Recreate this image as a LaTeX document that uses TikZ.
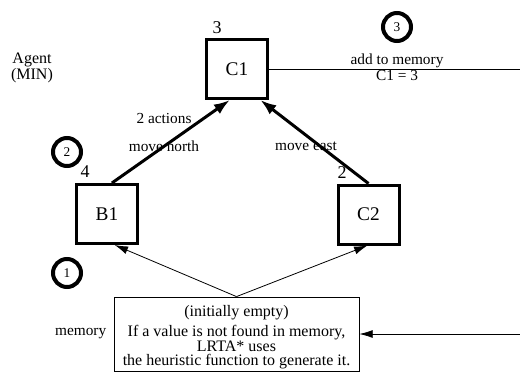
\documentclass[tikz,border=0pt]{standalone}
\usepackage{fontspec}
\setmainfont{Liberation Serif}
\usetikzlibrary{arrows.meta, positioning}
\tikzset{
  state/.style={draw, line width=2.25pt, minimum width=45.75pt, minimum height=44.25pt, font=\fontsize{14.5}{16}\selectfont},
  hval/.style={font=\fontsize{13.5}{15}\selectfont},
  stepmark/.style={draw, circle, line width=3pt, minimum size=21pt, inner sep=0pt, font=\fontsize{10}{12}\selectfont},
  lbl/.style={font=\fontsize{11.5}{12}\selectfont},
  move/.style={line width=2.25pt, -{Latex[length=12pt, width=8.5pt]}},
  lookup/.style={line width=0.6pt, -{Latex[length=10pt, width=6pt]}},
}
\begin{document}
\begin{tikzpicture}[x=0.75pt, y=0.75pt]
\useasboundingbox (0,0) rectangle (520,372);

\node[state] (C1) at (237,303) {C1};
\node[state] (B1) at (107,158) {B1};
\node[state] (C2) at (368.5,157.5) {C2};

\node[hval] (hC1) at (217,344) {3};
\node[hval] (hB1) at (85,200) {4};
\node[hval] (hC2) at (342,199) {2};

\node[lbl, align=center, font=\fontsize{12}{10.5}\selectfont] (agent) at (32,304) {Agent\\(MIN)};

\node[stepmark] (s1) at (67,99) {1};
\node[stepmark] (s2) at (67,220) {2};
\node[stepmark] (s3) at (397,345) {3};

\draw[move] (B1.81) -- (C1.257);
\draw[move] (C2.north) -- (C1.307);
\node[lbl] (acts) at (164,254) {2 actions};
\node[lbl] (mvn) at (164,226) {move north};
\node[lbl] (mve) at (306,226) {move east};

\coordinate (out) at (520,303);
\draw[line width=0.6pt] (C1.east) -- (out);
\node[lbl] (add) at (397,311) {add to memory};
\node[lbl] (val) at (397,297) {C1 = 3};

\node[draw, line width=0.6pt, minimum width=183.75pt, minimum height=55.5pt, inner sep=0pt] (mem) at (236.5,38) {};
\node[align=center, font=\fontsize{12}{10.2}\selectfont, yshift=-2.5pt] (memtext) at (mem.center)
  {(initially empty)\\[2.6pt]If a value is not found in memory,\\LRTA* uses\\the heuristic function to generate it.};
\node[lbl, left=2pt of mem] (memlbl) {memory};

\draw[lookup] (mem.north) -- (B1.284);
\draw[lookup] (mem.north) -- (C2.268);
\coordinate (in) at (520,38);
\draw[lookup] (in) -- (mem.east);

\end{tikzpicture}
\end{document}
